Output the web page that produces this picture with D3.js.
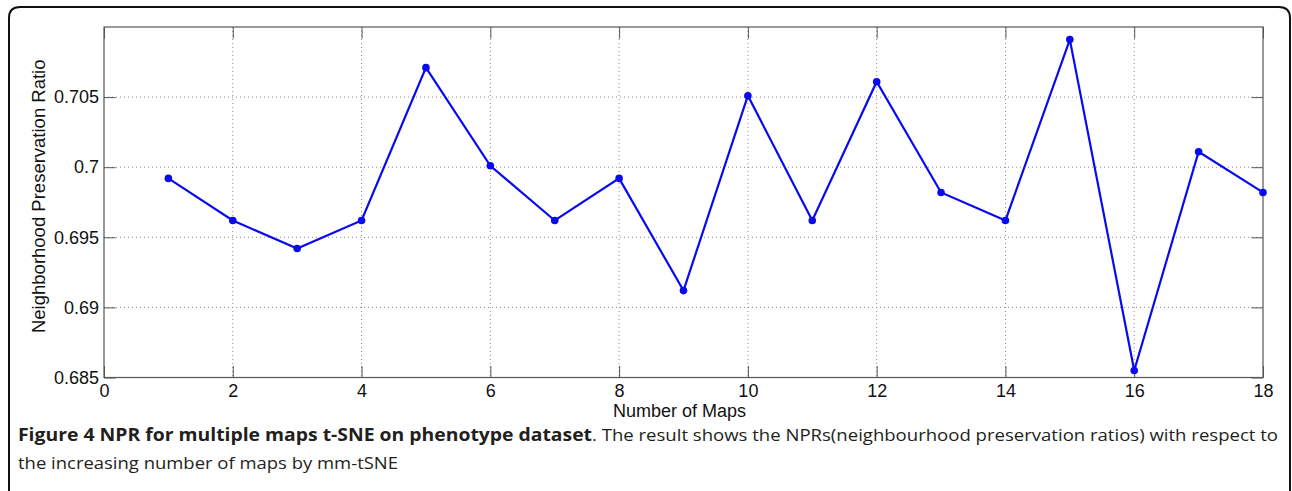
<!DOCTYPE html>
<html>
<head>
<meta charset="utf-8">
<script src="https://cdn.jsdelivr.net/npm/d3@7"></script>
<style>
  body { margin: 0; background: #fff; }
  svg { display: block; }
</style>
</head>
<body>
<div id="chart"></div>
<script>
// data
const mapCounts = [1, 2, 3, 4, 5, 6, 7, 8, 9, 10, 11, 12, 13, 14, 15, 16, 17, 18];
const nprValues = [0.6992, 0.6962, 0.6942, 0.6962, 0.7071, 0.7001, 0.6962, 0.6992, 0.6912,
  0.7051, 0.6962, 0.7061, 0.6982, 0.6962, 0.7091, 0.6855, 0.7011, 0.6982];
const xTicks = [0, 2, 4, 6, 8, 10, 12, 14, 16, 18];
const yTicks = [0.685, 0.69, 0.695, 0.7, 0.705];

const W = 1292, H = 491;
const MARGIN = { TOP: 27, LEFT: 104, RIGHT: 29, BOTTOM: 113.5 };
const WIDTH = W - MARGIN.LEFT - MARGIN.RIGHT;
const HEIGHT = H - MARGIN.TOP - MARGIN.BOTTOM;
const TICK = 11.6;
const AXIS_FONT = 'Liberation Sans, Arial, sans-serif';

const svg = d3.select('#chart').append('svg')
  .attr('width', W).attr('height', H);

// rounded frame round figure + caption
svg.append('path')
  .attr('d', 'M9,491 L9,18 Q9,7 20,7 L1279,7 Q1290,7 1290,18 L1290,491')
  .attr('fill', 'none').attr('stroke', '#111').attr('stroke-width', 2);

const g = svg.append('g').attr('transform', `translate(${MARGIN.LEFT},${MARGIN.TOP})`);

const x = d3.scaleLinear().domain([0, 18]).range([0, WIDTH]);
const y = d3.scaleLinear().domain([0.685, 0.71]).range([HEIGHT, 0]);

// dotted grid
g.append('g').selectAll('line').data(xTicks.slice(1, -1)).join('line')
  .attr('x1', d => x(d)).attr('x2', d => x(d)).attr('y1', 0).attr('y2', HEIGHT)
  .attr('stroke', '#8a8a8a').attr('stroke-width', 1).attr('stroke-dasharray', '1,3');
g.append('g').selectAll('line').data(yTicks.slice(1)).join('line')
  .attr('x1', 0).attr('x2', WIDTH).attr('y1', d => y(d)).attr('y2', d => y(d))
  .attr('stroke', '#8a8a8a').attr('stroke-width', 1).attr('stroke-dasharray', '1,3');

// axes, ticks pointing inward like matlab
const fmt = d => String(+d.toFixed(3));
const axisStyle = sel => {
  sel.select('.domain').remove();
  sel.selectAll('line').attr('stroke', '#555');
  sel.selectAll('text').attr('font-family', AXIS_FONT)
    .attr('font-size', 18).attr('fill', '#111');
};
g.append('g').attr('transform', `translate(0,${HEIGHT})`)
  .call(d3.axisBottom(x).tickValues(xTicks).tickSizeInner(-TICK).tickSizeOuter(0).tickPadding(7))
  .call(axisStyle);
g.append('g')
  .call(d3.axisTop(x).tickValues(xTicks).tickSizeInner(-TICK).tickSizeOuter(0).tickFormat(''))
  .call(axisStyle);
g.append('g')
  .call(d3.axisLeft(y).tickValues(yTicks).tickSizeInner(-TICK).tickSizeOuter(0).tickPadding(5).tickFormat(fmt))
  .call(axisStyle);
g.append('g').attr('transform', `translate(${WIDTH},0)`)
  .call(d3.axisRight(y).tickValues(yTicks).tickSizeInner(-TICK).tickSizeOuter(0).tickFormat(''))
  .call(axisStyle);

g.append('rect').attr('width', WIDTH).attr('height', HEIGHT)
  .attr('fill', 'none').attr('stroke', '#555').attr('stroke-width', 1.2);

// the series
const pts = mapCounts.map((m, i) => [m, nprValues[i]]);
g.append('path').datum(pts)
  .attr('d', d3.line().x(d => x(d[0])).y(d => y(d[1])))
  .attr('fill', 'none').attr('stroke', '#0a0aee').attr('stroke-width', 2.2);
g.selectAll('circle.pt').data(pts).join('circle').attr('class', 'pt')
  .attr('cx', d => x(d[0])).attr('cy', d => y(d[1])).attr('r', 3.8)
  .attr('fill', '#0a0aee');

// axis titles
g.append('text').attr('x', WIDTH / 2 - 4).attr('y', HEIGHT + 39)
  .attr('text-anchor', 'middle').attr('font-family', AXIS_FONT)
  .attr('font-size', 18).attr('fill', '#111').text('Number of Maps');
svg.append('text').attr('transform', `translate(45,${MARGIN.TOP + HEIGHT / 2 - 6}) rotate(-90)`)
  .attr('text-anchor', 'middle').attr('font-family', AXIS_FONT)
  .attr('font-size', 18.5).attr('fill', '#111').text('Neighborhood Preservation Ratio');

// caption
const cap = { font: 'Open Sans, Noto Sans, sans-serif', size: 17 };
svg.append('text').attr('x', 18).attr('y', 441)
  .attr('font-family', cap.font).attr('font-size', cap.size).attr('font-weight', 'bold')
  .attr('fill', '#231f20')
  .attr('textLength', 574).attr('lengthAdjust', 'spacingAndGlyphs')
  .text('Figure 4 NPR for multiple maps t-SNE on phenotype dataset');
svg.append('text').attr('x', 592).attr('y', 441)
  .attr('font-family', cap.font).attr('font-size', cap.size)
  .attr('fill', '#231f20')
  .attr('textLength', 686).attr('lengthAdjust', 'spacingAndGlyphs')
  .text('. The result shows the NPRs(neighbourhood preservation ratios) with respect to');
svg.append('text').attr('x', 18).attr('y', 469)
  .attr('font-family', cap.font).attr('font-size', cap.size)
  .attr('fill', '#231f20')
  .attr('textLength', 380).attr('lengthAdjust', 'spacingAndGlyphs')
  .text('the increasing number of maps by mm-tSNE');
</script>
</body>
</html>
